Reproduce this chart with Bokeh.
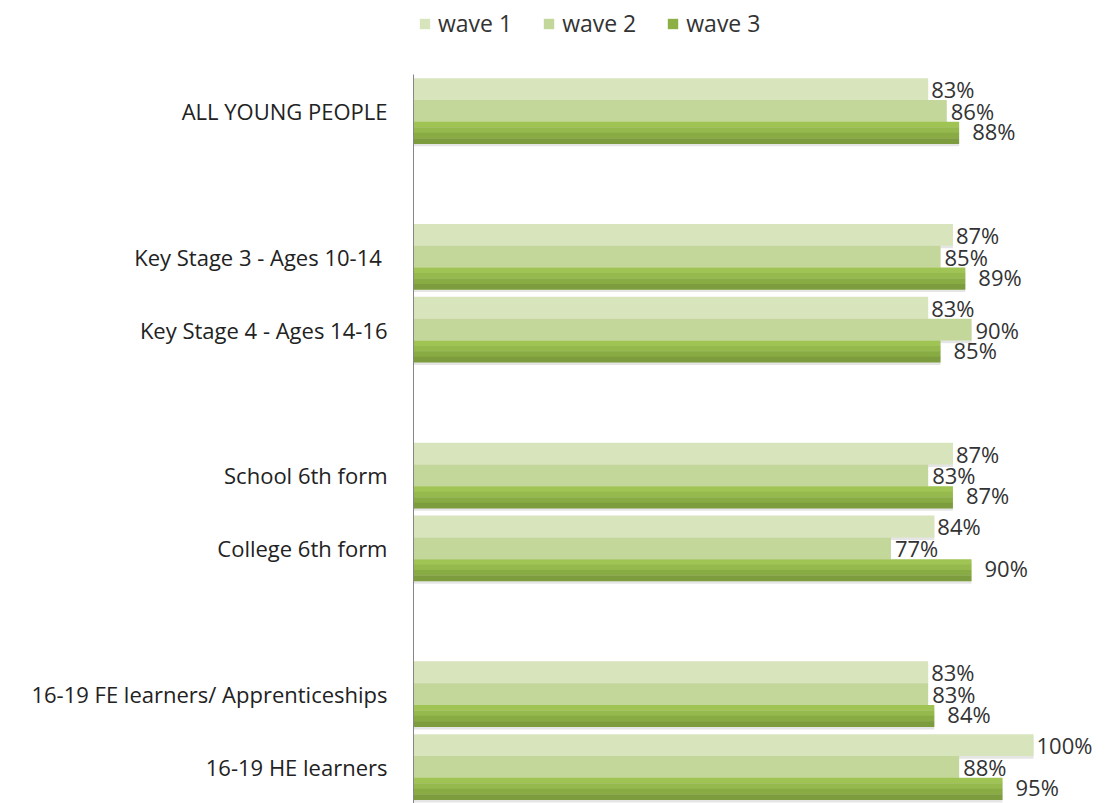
from bokeh.plotting import figure
from bokeh.layouts import column
from bokeh.models import ColumnDataSource, FactorRange, Legend, LegendItem, LabelSet
from bokeh.transform import dodge
from bokeh.core.properties import value
from bokeh.embed import file_html
from bokeh.resources import INLINE

categories = ["ALL YOUNG PEOPLE", " ", "Key Stage 3 - Ages 10-14 ", "Key Stage 4 - Ages 14-16",
              "  ", "School 6th form", "College 6th form", "   ",
              "16-19 FE learners/ Apprenticeships", "16-19 HE learners"]
wave1 = [83, None, 87, 83, None, 87, 84, None, 83, 100]
wave2 = [86, None, 85, 90, None, 83, 77, None, 83, 88]
wave3 = [88, None, 89, 85, None, 87, 90, None, 84, 95]
series = ["wave 1", "wave 2", "wave 3"]

FONT = "Open Sans"
FS = "22px"
VFS = "22px"
LFS = "23px"
W1C, W2C = "#d8e4bc", "#c4d79b"
stripes = ["#a0c454", "#95b94c", "#89ab44", "#7c9c3d"]

cats = [c for c, v in zip(categories, wave1) if v is not None]
def col(vals):
    return [v for v in vals if v is not None]
w1, w2, w3 = col(wave1), col(wave2), col(wave3)
src = ColumnDataSource(dict(cat=cats, w1=w1, w2=w2, w3=w3,
                            l1=[f"{v}%" for v in w1], l2=[f"{v}%" for v in w2], l3=[f"{v}%" for v in w3]))

p = figure(width=1115, height=729, y_range=FactorRange(factors=list(reversed(categories))),
           x_range=(0, 110.8), output_backend="svg", toolbar_location=None,
           min_border_left=413, min_border_right=15, min_border_top=0, min_border_bottom=0)
p.outline_line_color = None
p.xaxis.visible = False
p.xgrid.visible = False
p.ygrid.visible = False

BH = 0.3
# soft drop shadows
for off, key in [(BH, "w1"), (0, "w2"), (-BH, "w3")]:
    p.hbar(y=dodge("cat", off - 0.035, range=p.y_range), right=key, left=0, height=BH, source=src,
           fill_color="#000000", fill_alpha=0.10, line_color=None)

p.hbar(y=dodge("cat", BH, range=p.y_range), right="w1", left=0, height=BH, source=src,
       fill_color=W1C, line_color=None)
p.hbar(y=dodge("cat", 0, range=p.y_range), right="w2", left=0, height=BH, source=src,
       fill_color=W2C, line_color=None)
for i, c in enumerate(stripes):
    off = -BH + BH / 2 - BH / 8 - i * BH / 4
    p.hbar(y=dodge("cat", off, range=p.y_range), right="w3", left=0, height=BH / 4 + 0.004, source=src,
           fill_color=c, line_color=None)

for off, key, lab, xo, yo in [(BH, "w1", "l1", 3, 0), (0, "w2", "l2", 4, 0), (-BH, "w3", "l3", 13, 2)]:
    ls = LabelSet(x=key, y=dodge("cat", off, range=p.y_range), text=lab, source=src,
                  x_offset=xo, y_offset=yo, text_align="left", text_baseline="middle",
                  text_font=value(FONT), text_font_size=VFS, text_color="#333333")
    p.add_layout(ls)

p.yaxis.axis_line_color = "#868686"
p.yaxis.major_tick_line_color = None
p.yaxis.minor_tick_line_color = None
p.yaxis.major_label_text_font = FONT
p.yaxis.major_label_text_font_size = FS
p.yaxis.major_label_text_color = "#222222"
p.yaxis.major_label_standoff = 20

# legend strip on top (frame aligned with main plot frame by the column layout)
lg = figure(width=1115, height=74, x_range=(0, 1), y_range=(0, 1), output_backend="svg",
            toolbar_location=None, min_border_left=413, min_border_right=15, min_border_top=0,
            min_border_bottom=0)
lg.outline_line_color = None
lg.axis.visible = False
lg.grid.visible = False
dummy = ColumnDataSource(dict(x=[-10], y=[-10]))
lr1 = lg.rect(x="x", y="y", width=0.1, height=0.1, source=dummy, fill_color=W1C, line_color=None)
lr2 = lg.rect(x="x", y="y", width=0.1, height=0.1, source=dummy, fill_color=W2C, line_color=None)
lr3 = lg.rect(x="x", y="y", width=0.1, height=0.1, source=dummy, fill_color="#8db046", line_color=None)
legend = Legend(items=[LegendItem(label=series[0], renderers=[lr1]),
                       LegendItem(label=series[1], renderers=[lr2]),
                       LegendItem(label=series[2], renderers=[lr3])],
                orientation="horizontal", location=(5, 35),
                label_text_font=FONT, label_text_font_size=LFS, label_text_color="#333333",
                glyph_width=13, glyph_height=13, spacing=30, padding=5, margin=0,
                label_standoff=7, border_line_color=None, background_fill_alpha=0)
lg.add_layout(legend, "center")

open("out.html", "w").write(file_html(column(lg, p, spacing=0), INLINE))
